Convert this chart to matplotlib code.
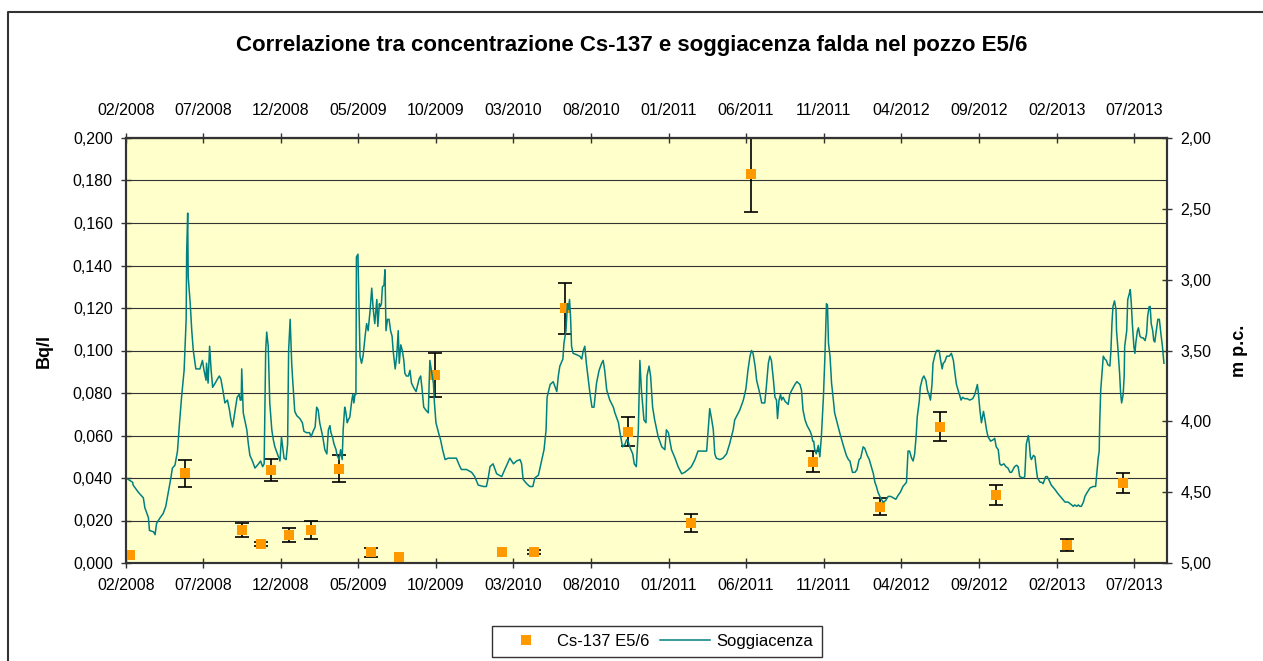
"""
Correlazione tra concentrazione Cs-137 e soggiacenza falda nel pozzo E5/6.
Grafico a doppio asse: Bq/l (sinistra) e m p.c. (destra, invertito).
"""

import numpy as np
import pandas as pd
import matplotlib
matplotlib.use("Agg")
import matplotlib.pyplot as plt
import matplotlib.dates as mdates
from matplotlib.lines import Line2D
from matplotlib.ticker import FuncFormatter, MultipleLocator

plt.rcParams["font.family"] = ["Liberation Sans", "DejaVu Sans"]

TITOLO = "Correlazione tra concentrazione Cs-137 e soggiacenza falda nel pozzo E5/6"
DATA_INIZIO = "2008-02-01"
DATA_FINE = "2013-09-04"

# Cs-137 E5/6 (Bq/l) con incertezza
cs_date = ["2008-02-09", "2008-05-27", "2008-09-16", "2008-10-22", "2008-11-11",
           "2008-12-17", "2009-01-28", "2009-03-24", "2009-05-26", "2009-07-20",
           "2009-09-30", "2010-02-08", "2010-04-12", "2010-06-12", "2010-10-12",
           "2011-02-13", "2011-06-11", "2011-10-11", "2012-02-19", "2012-06-15",
           "2012-10-03", "2013-02-19", "2013-06-10"]
cs_val = [0.0038, 0.0422, 0.0155, 0.0091, 0.0438, 0.0132, 0.0155, 0.0444, 0.0050, 0.0027,
          0.0885, 0.0052, 0.0052, 0.1198, 0.0618, 0.0187, 0.1829, 0.0477, 0.0265, 0.0642,
          0.0320, 0.0085, 0.0375]
cs_err = [0.0, 0.0063, 0.0033, 0.0009, 0.0051, 0.0035, 0.0041, 0.0063, 0.0020, 0.0,
          0.0102, 0.0, 0.0008, 0.0120, 0.0067, 0.0042, 0.0178, 0.0051, 0.0040, 0.0067,
          0.0047, 0.0028, 0.0047]

# Soggiacenza (m p.c.), giorni dal 01/02/2008
sogg_giorni = [
    0, 13, 14, 18, 24, 34, 37, 44, 46, 54, 57, 60, 67, 73, 78, 80, 83, 88, 91, 96,
    101, 105, 109, 114, 116, 118, 119, 121, 122, 126, 129, 132, 137, 145, 150, 153, 157, 158, 161, 164,
    167, 170, 175, 178, 183, 186, 190, 194, 199, 203, 205, 209, 212, 214, 218, 222, 224, 226, 227, 229,
    230, 233, 237, 240, 243, 248, 253, 260, 264, 268, 271, 274, 276, 279, 282, 286, 289, 292, 299, 302,
    305, 307, 310, 314, 317, 319, 322, 325, 327, 331, 335, 341, 346, 349, 354, 360, 363, 367, 371, 374,
    377, 380, 386, 390, 394, 397, 400, 402, 405, 408, 412, 414, 418, 421, 424, 426, 429, 431, 434, 436,
    439, 443, 445, 447, 449, 451, 452, 455, 457, 459, 462, 465, 469, 472, 475, 479, 482, 485, 488, 492,
    494, 497, 499, 501, 503, 506, 508, 510, 513, 516, 519, 522, 524, 528, 531, 534, 536, 539, 542, 545,
    547, 550, 554, 557, 560, 564, 569, 573, 575, 578, 581, 584, 588, 593, 596, 599, 603, 605, 608, 613,
    617, 621, 626, 632, 648, 655,
    658, 668, 678, 684, 691, 701, 707, 711, 714, 720, 727, 737, 743, 753, 760, 766, 773, 776, 779, 786,
    792, 798, 802, 809, 815, 820, 824, 826, 832, 838, 845, 848, 851, 857, 859, 863, 866, 868, 870, 872,
    874, 877, 884, 890, 894, 897, 900, 903, 907, 910, 914, 918, 923, 928, 933, 936, 939, 943, 949, 956,
    959, 966, 969, 974, 979, 982, 985, 988, 994, 997, 1001, 1005, 1008, 1011, 1016, 1020, 1022, 1026, 1029, 1033,
    1037, 1044, 1051, 1057, 1060, 1064, 1070, 1077, 1083, 1090, 1096, 1103, 1109, 1116, 1122, 1129, 1139, 1143, 1145, 1149,
    1152, 1155, 1158, 1165, 1171, 1178, 1184, 1191, 1194, 1204, 1211, 1216, 1220, 1224, 1227, 1230, 1234, 1237, 1243, 1247,
    1253, 1256, 1260, 1263, 1266, 1270, 1273, 1276, 1278, 1281, 1284, 1286, 1289, 1293, 1299, 1302, 1306, 1312, 1316, 1322,
    1325, 1328, 1332, 1336, 1342, 1345, 1347, 1349, 1351, 1354, 1358, 1361, 1364, 1368, 1371, 1374, 1376, 1378, 1381, 1384,
    1387, 1390, 1395, 1400, 1407, 1413, 1417, 1420, 1425, 1430, 1434, 1438, 1441, 1446, 1449, 1454, 1458, 1462, 1466, 1469,
    1472, 1475, 1480, 1485, 1490, 1495, 1500, 1505, 1510, 1515, 1519, 1524, 1531, 1534, 1537, 1541, 1544, 1547, 1550, 1552,
    1556, 1558, 1562, 1565, 1569, 1572, 1575, 1578, 1581, 1583, 1587, 1590, 1595, 1598, 1601, 1603, 1606, 1610, 1615, 1619,
    1623, 1626, 1629, 1634, 1638, 1641, 1645, 1650, 1655, 1661, 1665, 1670, 1672, 1675, 1678, 1682, 1685, 1688, 1691, 1696,
    1701, 1704, 1707, 1711, 1714, 1717, 1722, 1726, 1730, 1734, 1737, 1740, 1743, 1747, 1750, 1753, 1760, 1763, 1766, 1770,
    1772, 1774, 1776, 1780, 1783, 1785, 1788, 1793, 1796, 1799, 1804, 1807, 1810, 1815, 1822, 1828, 1835, 1842, 1848, 1855,
    1858, 1861, 1865, 1868, 1871, 1874, 1878, 1881, 1884, 1891, 1897, 1902, 1905, 1907, 1909, 1910, 1912, 1915, 1917, 1920,
    1923, 1926, 1930, 1932, 1934, 1936, 1939, 1942, 1943, 1946, 1949, 1951, 1953, 1956, 1958, 1959, 1963, 1965, 1968, 1970,
    1972, 1974, 1977, 1979, 1981, 1984, 1986, 1989, 1992, 1995, 1999, 2002, 2004, 2007, 2009, 2011, 2014, 2016, 2018, 2021,
    2024, 2027, 2030, 2033, 2036,
]
sogg_m = [
    4.40, 4.43, 4.45, 4.47, 4.50, 4.54, 4.61, 4.68, 4.77, 4.78, 4.80, 4.72, 4.68, 4.65, 4.60, 4.56, 4.50, 4.40, 4.33, 4.31,
    4.21, 4.01, 3.83, 3.64, 3.45, 3.28, 2.81, 2.53, 2.98, 3.17, 3.36, 3.50, 3.63, 3.63, 3.57, 3.64, 3.71, 3.59, 3.73, 3.47,
    3.64, 3.76, 3.73, 3.71, 3.68, 3.70, 3.78, 3.87, 3.85, 3.92, 3.97, 4.04, 3.97, 3.92, 3.83, 3.81, 3.85, 3.85, 3.63, 3.83,
    3.94, 3.99, 4.06, 4.16, 4.24, 4.28, 4.33, 4.30, 4.28, 4.32, 4.30, 3.50, 3.37, 3.47, 3.87, 4.06, 4.13, 4.18, 4.25, 4.28,
    4.11, 4.17, 4.26, 4.27, 4.16, 3.50, 3.28, 3.59, 3.71, 3.93, 3.96, 3.98, 4.01, 4.07, 4.08, 4.08, 4.11, 4.07, 4.04, 3.90,
    3.92, 4.01, 4.11, 4.20, 4.23, 4.06, 4.03, 4.08, 4.11, 4.16, 4.20, 4.24, 4.27, 4.20, 4.27, 4.06, 3.90, 3.93, 4.01, 3.99,
    3.97, 3.85, 3.81, 3.87, 3.81, 3.81, 2.84, 2.82, 3.19, 3.54, 3.59, 3.54, 3.40, 3.31, 3.36, 3.21, 3.06, 3.21, 3.31, 3.14,
    3.33, 3.17, 3.19, 3.17, 3.05, 3.04, 2.93, 3.36, 3.28, 3.28, 3.36, 3.40, 3.50, 3.63, 3.54, 3.36, 3.59, 3.46, 3.50, 3.57,
    3.66, 3.68, 3.68, 3.64, 3.73, 3.76, 3.79, 3.73, 3.70, 3.68, 3.78, 3.90, 3.92, 3.94, 3.57, 3.64, 3.73, 3.87, 4.01, 4.08,
    4.13, 4.20, 4.27, 4.26, 4.26, 4.32,
    4.34, 4.34, 4.36, 4.39, 4.45, 4.46, 4.46, 4.39, 4.32, 4.30, 4.37, 4.39, 4.34, 4.26, 4.30, 4.28, 4.27, 4.30, 4.41, 4.44,
    4.46, 4.46, 4.40, 4.38, 4.28, 4.20, 4.06, 3.83, 3.74, 3.72, 3.79, 3.68, 3.61, 3.56, 3.45, 3.36, 3.17, 3.21, 3.14, 3.26,
    3.47, 3.52, 3.53, 3.54, 3.56, 3.50, 3.47, 3.59, 3.71, 3.80, 3.90, 3.90, 3.73, 3.64, 3.59, 3.57, 3.64, 3.78, 3.85, 3.90,
    3.94, 4.01, 4.08, 4.18, 4.16, 4.13, 4.14, 4.18, 4.23, 4.30, 4.32, 4.06, 3.57, 3.78, 3.99, 4.01, 3.68, 3.61, 3.68, 3.90,
    3.99, 4.11, 4.18, 4.20, 4.06, 4.08, 4.20, 4.26, 4.32, 4.37, 4.36, 4.34, 4.32, 4.27, 4.21, 4.21, 4.21, 4.01, 3.91, 3.99,
    4.06, 4.23, 4.26, 4.27, 4.26, 4.23, 4.16, 4.06, 3.99, 3.92, 3.85, 3.77, 3.64, 3.54, 3.50, 3.52, 3.61, 3.71, 3.80, 3.87,
    3.87, 3.76, 3.59, 3.54, 3.57, 3.71, 3.83, 3.85, 3.98, 3.85, 3.81, 3.85, 3.83, 3.86, 3.88, 3.81, 3.78, 3.74, 3.72, 3.74,
    3.78, 3.92, 3.99, 4.03, 4.07, 4.10, 4.14, 4.14, 4.20, 4.23, 4.17, 4.25, 4.11, 3.83, 3.54, 3.17, 3.18, 3.45, 3.54, 3.73,
    3.83, 3.94, 4.01, 4.08, 4.17, 4.24, 4.27, 4.28, 4.36, 4.36, 4.34, 4.27, 4.26, 4.18, 4.19, 4.24, 4.27, 4.32, 4.37, 4.43,
    4.46, 4.50, 4.54, 4.57, 4.56, 4.53, 4.53, 4.54, 4.55, 4.52, 4.50, 4.46, 4.43, 4.21, 4.21, 4.26, 4.28, 4.23, 4.10, 3.97,
    3.86, 3.76, 3.70, 3.68, 3.71, 3.78, 3.81, 3.85, 3.74, 3.59, 3.53, 3.50, 3.50, 3.57, 3.63, 3.59, 3.58, 3.54, 3.54, 3.52,
    3.57, 3.66, 3.74, 3.80, 3.85, 3.83, 3.84, 3.84, 3.85, 3.84, 3.81, 3.74, 3.80, 3.92, 4.01, 3.93, 3.99, 4.06, 4.11, 4.14,
    4.13, 4.12, 4.18, 4.20, 4.30, 4.31, 4.30, 4.32, 4.33, 4.36, 4.36, 4.34, 4.32, 4.31, 4.32, 4.39, 4.40, 4.39, 4.16, 4.10,
    4.16, 4.25, 4.27, 4.24, 4.25, 4.32, 4.40, 4.43, 4.43, 4.44, 4.39, 4.39, 4.41, 4.45, 4.48, 4.51, 4.54, 4.57, 4.57, 4.59,
    4.60, 4.59, 4.60, 4.59, 4.60, 4.60, 4.57, 4.53, 4.51, 4.47, 4.46, 4.46, 4.34, 4.26, 4.21, 4.01, 3.78, 3.64, 3.54, 3.56,
    3.57, 3.60, 3.61, 3.50, 3.31, 3.19, 3.15, 3.21, 3.36, 3.50, 3.66, 3.80, 3.87, 3.81, 3.68, 3.47, 3.36, 3.14, 3.10, 3.07,
    3.17, 3.31, 3.47, 3.52, 3.44, 3.36, 3.34, 3.40, 3.41, 3.41, 3.43, 3.38, 3.26, 3.19, 3.19, 3.31, 3.36, 3.43, 3.44, 3.36,
    3.28, 3.28, 3.38, 3.47, 3.59,
]

W, H = 1263, 661


def virgola(fmt):
    return FuncFormatter(lambda v, pos: format(v, fmt).replace(".", ","))


def main():
    fig = plt.figure(figsize=(W / 100, H / 100), dpi=100)
    ax = fig.add_axes([126 / W, 1 - 563 / H, (1167 - 126) / W, (563 - 138) / H])
    ax.set_facecolor("#FFFFCC")
    ax2 = ax.twinx()

    t0 = pd.Timestamp(DATA_INIZIO)
    sogg_x = (t0 + pd.to_timedelta(sogg_giorni, unit="D")).to_numpy()
    cs_x = pd.to_datetime(cs_date).to_numpy()
    val = np.array(cs_val)
    err = np.array(cs_err)
    con_err = err > 0

    # Cs-137: barre d'errore sotto, marcatori sopra
    ax.errorbar(cs_x[con_err], val[con_err], yerr=err[con_err], fmt="none",
                ecolor="black", elinewidth=1.2, capsize=4.7, capthick=1.2, zorder=2)
    ax.plot(cs_x, val, "s", color="#FF9900", markersize=7, markeredgewidth=0,
            label="Cs-137 E5/6", zorder=3)

    # Soggiacenza su asse secondario (invertito)
    ax2.plot(sogg_x, sogg_m, color="#008080", lw=1.1, label="Soggiacenza")

    ax.set_xlim(pd.Timestamp(DATA_INIZIO), pd.Timestamp(DATA_FINE))
    ax.set_ylim(0, 0.2)
    ax.yaxis.set_major_locator(MultipleLocator(0.02))
    ax.yaxis.set_major_formatter(virgola(".3f"))
    ax2.set_ylim(5, 2)
    ax2.yaxis.set_major_locator(MultipleLocator(0.5))
    ax2.yaxis.set_major_formatter(virgola(".2f"))

    tick_date = pd.date_range(DATA_INIZIO, "2013-07-01", freq="5MS")
    tick_lab = [d.strftime("%m/%Y") for d in tick_date]
    ax.set_xticks(tick_date)
    ax.set_xticklabels(tick_lab)

    sec = ax.secondary_xaxis("top")
    sec.set_xticks(mdates.date2num(tick_date), labels=tick_lab)

    ax.yaxis.grid(True, color="#333333", lw=0.8)
    ax.set_axisbelow(True)

    for a in (ax, ax2, sec):
        for sp in a.spines.values():
            sp.set_color("#333333")
            sp.set_linewidth(1.5)

    fs = 11.5
    ax.tick_params(axis="y", direction="inout", length=7, width=1, colors="#333333",
                   labelcolor="black", labelsize=fs, pad=6)
    ax.tick_params(axis="x", direction="inout", length=7, width=1, colors="#333333",
                   labelcolor="black", labelsize=fs, pad=7)
    sec.tick_params(direction="inout", length=7, width=1, colors="#333333",
                    labelcolor="black", labelsize=fs, pad=11)
    ax2.tick_params(axis="y", direction="inout", length=7, width=1, colors="#333333",
                    labelcolor="black", labelsize=fs, pad=6)

    fig.text(0.5, 1 - 45 / H, TITOLO, ha="center", va="center", fontsize=16, fontweight="bold")
    fig.text(44 / W, 1 - 351 / H, "Bq/l", rotation=90, ha="center", va="center",
             fontsize=13, fontweight="bold")
    fig.text(1240 / W, 1 - 351 / H, "m p.c.", rotation=90, ha="center", va="center",
             fontsize=13, fontweight="bold")

    h1, l1 = ax.get_legend_handles_labels()
    h2, l2 = ax2.get_legend_handles_labels()
    leg = fig.legend(h1 + h2, l1 + l2, loc="center", bbox_to_anchor=(657 / W, 1 - 641.5 / H),
                     ncol=2, fontsize=12, frameon=True, fancybox=False, edgecolor="black",
                     handlelength=3.0, handletextpad=0.4, columnspacing=0.6, borderpad=0.5)
    leg.get_frame().set_linewidth(1.0)

    # bordo dell'area del grafico
    fig.add_artist(Line2D([8 / W, 8 / W, 1], [0, 1 - 12 / H, 1 - 12 / H],
                          transform=fig.transFigure, color="#333333", lw=1.5))

    fig.savefig("out.png", dpi=100)
    plt.close(fig)


if __name__ == "__main__":
    main()
